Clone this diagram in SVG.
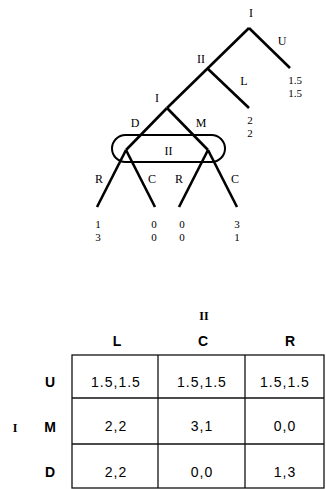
<svg xmlns="http://www.w3.org/2000/svg" width="326" height="489" viewBox="0 0 326 489">
<style>
.br{stroke:#000;stroke-width:2.6;stroke-linecap:butt;fill:none}
.t{font-family:"Liberation Serif",serif;font-size:12px;fill:#000;text-anchor:middle}
.p{font-family:"Liberation Serif",serif;font-size:11px;fill:#000;text-anchor:middle}
.h{font-family:"Liberation Sans",Arial,sans-serif;font-size:14px;font-weight:bold;fill:#000;text-anchor:middle}
.c{font-family:"Liberation Sans",Arial,sans-serif;font-size:14px;fill:#000;text-anchor:middle;letter-spacing:1px}
.g{stroke:#111;stroke-width:1.3;fill:none}
</style>
<rect width="326" height="489" fill="#fff"/>
<g id="connectors">
<line class="br" x1="249" y1="28" x2="290" y2="68"/>
<line class="br" x1="249" y1="28" x2="167" y2="108"/>
<line class="br" x1="207" y1="68" x2="249" y2="108"/>
<line class="br" x1="167" y1="108" x2="126" y2="150"/>
<line class="br" x1="167" y1="108" x2="208" y2="150"/>
<line class="br" x1="126" y1="150" x2="97" y2="207"/>
<line class="br" x1="126" y1="150" x2="155" y2="207"/>
<line class="br" x1="208" y1="150" x2="179" y2="207"/>
<line class="br" x1="208" y1="150" x2="237" y2="207"/>
</g>
<g id="node-I-root"><text class="t" x="251" y="17">I</text></g>
<g id="label-U"><text class="t" x="282" y="45">U</text></g>
<g id="payoff-U"><text class="p" x="295" y="84">1.5</text><text class="p" x="295" y="97">1.5</text></g>
<g id="node-II"><text class="t" x="201" y="63">II</text></g>
<g id="label-L"><text class="t" x="244" y="85">L</text></g>
<g id="payoff-L"><text class="p" x="250" y="124">2</text><text class="p" x="250" y="137">2</text></g>
<g id="node-I-2"><text class="t" x="157" y="102">I</text></g>
<g id="label-D"><text class="t" x="135" y="127">D</text></g>
<g id="label-M"><text class="t" x="201" y="127">M</text></g>
<g id="info-set-II">
<rect x="112" y="135" width="113" height="27" rx="13.5" ry="13.5" fill="none" stroke="#000" stroke-width="2"/>
<text class="t" x="168.5" y="155">II</text>
</g>
<g id="labels-RC">
<text class="t" x="99" y="183">R</text>
<text class="t" x="152" y="183">C</text>
<text class="t" x="179" y="183">R</text>
<text class="t" x="235" y="183">C</text>
</g>
<g id="payoffs-bottom">
<text class="p" x="98" y="228">1</text><text class="p" x="98" y="241">3</text>
<text class="p" x="154" y="228">0</text><text class="p" x="154" y="241">0</text>
<text class="p" x="182" y="228">0</text><text class="p" x="182" y="241">0</text>
<text class="p" x="237" y="228">3</text><text class="p" x="237" y="241">1</text>
</g>
<g id="table">
<text class="t" x="204" y="320" font-weight="bold">II</text>
<text class="h" x="117" y="346">L</text>
<text class="h" x="203" y="346">C</text>
<text class="h" x="290" y="346">R</text>
<text class="t" x="15" y="432" font-weight="bold">I</text>
<text class="h" x="50" y="387">U</text>
<text class="h" x="50" y="432">M</text>
<text class="h" x="50" y="477">D</text>
<rect class="g" x="72" y="355" width="252" height="133"/>
<line class="g" x1="158" y1="355" x2="158" y2="488"/>
<line class="g" x1="245" y1="355" x2="245" y2="488"/>
<line class="g" x1="72" y1="398" x2="324" y2="398"/>
<line class="g" x1="72" y1="444" x2="324" y2="444"/>
<text class="c" x="116" y="387">1.5,1.5</text>
<text class="c" x="202" y="387">1.5,1.5</text>
<text class="c" x="285" y="387">1.5,1.5</text>
<text class="c" x="116" y="431">2,2</text>
<text class="c" x="202" y="431">3,1</text>
<text class="c" x="285" y="431">0,0</text>
<text class="c" x="116" y="477">2,2</text>
<text class="c" x="202" y="477">0,0</text>
<text class="c" x="285" y="477">1,3</text>
</g>
</svg>
